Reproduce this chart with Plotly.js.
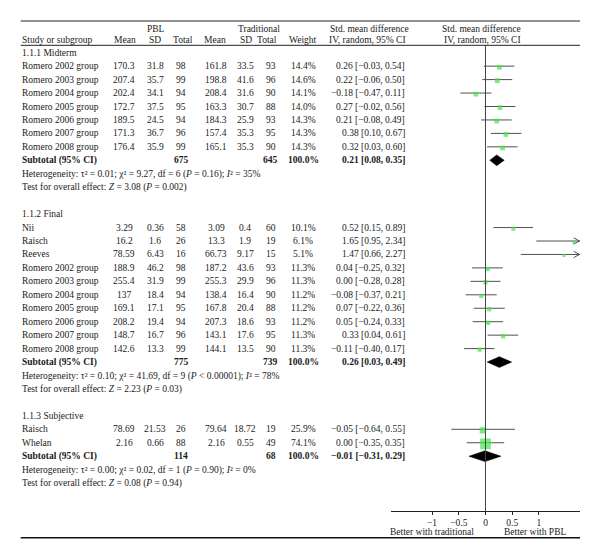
<!DOCTYPE html>
<html>
<head>
<meta charset="utf-8">
<script src="https://cdn.plot.ly/plotly-3.0.1.min.js"></script>
<style>html,body{margin:0;padding:0;background:#fff;}#chart{width:600px;height:559px;}</style>
</head>
<body>
<div id="chart"></div>
<script>
// ---------------- DATA ----------------
const groupTitles = ["1.1.1 Midterm", "1.1.2 Final", "1.1.3 Subjective"];

const midStudies = ["Romero 2002 group","Romero 2003 group","Romero 2004 group","Romero 2005 group","Romero 2006 group","Romero 2007 group","Romero 2008 group"];
const midPblMean = [170.3, 207.4, 202.4, 172.7, 189.5, 171.3, 176.4];
const midPblSD   = [31.8, 35.7, 34.1, 37.5, 24.5, 36.7, 35.9];
const midPblN    = [98, 99, 94, 95, 94, 96, 99];
const midTrMean  = [161.8, 198.8, 208.4, 163.3, 184.3, 157.4, 165.1];
const midTrSD    = [33.5, 41.6, 31.6, 30.7, 25.9, 35.3, 35.3];
const midTrN     = [93, 96, 90, 88, 93, 95, 90];
const midWeight  = [14.4, 14.6, 14.1, 14.0, 14.3, 14.3, 14.3];
const midSMD     = [0.26, 0.22, -0.18, 0.27, 0.21, 0.38, 0.32];
const midLo      = [-0.03, -0.06, -0.47, -0.02, -0.08, 0.10, 0.03];
const midHi      = [0.54, 0.50, 0.11, 0.56, 0.49, 0.67, 0.60];

const finStudies = ["Nii","Raisch","Reeves","Romero 2002 group","Romero 2003 group","Romero 2004 group","Romero 2005 group","Romero 2006 group","Romero 2007 group","Romero 2008 group"];
const finPblMean = [3.29, 16.2, 78.59, 188.9, 255.4, 137, 169.1, 208.2, 148.7, 142.6];
const finPblSD   = [0.36, 1.6, 6.43, 46.2, 31.9, 18.4, 17.1, 19.4, 16.7, 13.3];
const finPblN    = [58, 26, 16, 98, 99, 94, 95, 94, 96, 99];
const finTrMean  = [3.09, 13.3, 66.73, 187.2, 255.3, 138.4, 167.8, 207.3, 143.1, 144.1];
const finTrSD    = [0.4, 1.9, 9.17, 43.6, 29.9, 16.4, 20.4, 18.6, 17.6, 13.5];
const finTrN     = [60, 19, 15, 93, 96, 90, 88, 93, 95, 90];
const finWeight  = [10.1, 6.1, 5.1, 11.3, 11.3, 11.2, 11.2, 11.2, 11.3, 11.3];
const finSMD     = [0.52, 1.65, 1.47, 0.04, 0.00, -0.08, 0.07, 0.05, 0.33, -0.11];
const finLo      = [0.15, 0.95, 0.66, -0.25, -0.28, -0.37, -0.22, -0.24, 0.04, -0.40];
const finHi      = [0.89, 2.34, 2.27, 0.32, 0.28, 0.21, 0.36, 0.33, 0.61, 0.17];

const subStudies = ["Raisch","Whelan"];
const subPblMean = [78.69, 2.16];
const subPblSD   = [21.53, 0.66];
const subPblN    = [26, 88];
const subTrMean  = [79.64, 2.16];
const subTrSD    = [18.72, 0.55];
const subTrN     = [19, 49];
const subWeight  = [25.9, 74.1];
const subSMD     = [-0.05, 0.00];
const subLo      = [-0.64, -0.35];
const subHi      = [0.55, 0.35];

const totPblN = [675, 775, 114];
const totTrN  = [645, 739, 68];
const totSMD  = [0.21, 0.26, -0.01];
const totLo   = [0.08, 0.03, -0.31];
const totHi   = [0.35, 0.49, 0.29];

const hetTexts = [
  "Heterogeneity: τ² = 0.01; χ² = 9.27, df = 6 (<i>P</i> = 0.16); <i>I</i>² = 35%",
  "Heterogeneity: τ² = 0.10; χ² = 41.69, df = 9 (<i>P</i> < 0.00001); <i>I</i>² = 78%",
  "Heterogeneity: τ² = 0.00; χ² = 0.02, df = 1 (<i>P</i> = 0.90); <i>I</i>² = 0%"
];
const testTexts = [
  "Test for overall effect: <i>Z</i> = 3.08 (<i>P</i> = 0.002)",
  "Test for overall effect: <i>Z</i> = 2.23 (<i>P</i> = 0.03)",
  "Test for overall effect: <i>Z</i> = 0.08 (<i>P</i> = 0.94)"
];

const tickVals = [-1, -0.5, 0, 0.5, 1];
const tickLabels = ["−1", "−0.5", "0", "0.5", "1"];

// ---------------- LAYOUT HELPERS ----------------
const W = 600, H = 559, PB = 511;           // plot bottom pixel
const ROW0 = 52.7, ROWH = 13.45;             // pixel of row 0, row height
const XMIN = -1.767, XMAX = 1.767;
const FONT = "Liberation Serif, Times New Roman, serif";
const FS = 9.5;
const TXT = "#1a1a1a";
const GREEN = "#44e444";
const LINEC = "#505050";

const rowOf = p => (p - ROW0) / ROWH;
const px = p => p / W;
const py = p => (PB - p) / PB;
const minus = s => s.replace(/-/g, "−");
const f2 = v => minus(v.toFixed(2));
const ci = (e, l, h) => f2(e) + " [" + f2(l) + ", " + f2(h) + "]";

const groups = [
  {studies: midStudies, pm: midPblMean, ps: midPblSD, pn: midPblN, tm: midTrMean, ts: midTrSD, tn: midTrN, w: midWeight, e: midSMD, lo: midLo, hi: midHi},
  {studies: finStudies, pm: finPblMean, ps: finPblSD, pn: finPblN, tm: finTrMean, ts: finTrSD, tn: finTrN, w: finWeight, e: finSMD, lo: finLo, hi: finHi},
  {studies: subStudies, pm: subPblMean, ps: subPblSD, pn: subPblN, tm: subTrMean, ts: subTrSD, tn: subTrN, w: subWeight, e: subSMD, lo: subLo, hi: subHi}
];

// column x positions (pixels)
const COL = {name: 20.7, pm: 124, ps: 155, pn: 181, tm: 216, ts: 245, tn: 270.5, w: 303, ci: 406};

const annotations = [];
function addText(text, xpix, anchor, row, bold) {
  annotations.push({
    text: text,
    xref: "paper", yref: "y", x: px(xpix), y: row,
    xanchor: anchor, yanchor: "middle", showarrow: false,
    font: {family: FONT, size: FS, color: TXT, weight: bold ? "bold" : "normal"}, borderpad: 0
  });
}
function addHeader(text, xpix, anchor, ypix) {
  annotations.push({
    text: text, xref: "paper", yref: "paper", x: px(xpix), y: py(ypix),
    xanchor: anchor, yanchor: "middle", showarrow: false,
    font: {family: FONT, size: FS, color: TXT}, borderpad: 0
  });
}

// headers
addHeader("PBL", 156, "center", 29);
addHeader("Traditional", 259, "center", 29);
addHeader("Std. mean difference", 369.5, "center", 29);
addHeader("Std. mean difference", 481.5, "center", 29);
addHeader("Study or subgroup", 20.7, "left", 40.5);
addHeader("Mean", 124.5, "center", 40.5);
addHeader("SD", 155, "center", 40.5);
addHeader("Total", 183, "center", 40.5);
addHeader("Mean", 215, "center", 40.5);
addHeader("SD", 245.5, "center", 40.5);
addHeader("Total", 267, "center", 40.5);
addHeader("Weight", 303, "center", 40.5);
addHeader("IV, random, 95% CI", 367, "center", 40.5);
addHeader("IV, random, 95% CI", 482, "center", 40.5);
addHeader("Better with traditional", 432, "center", 532);
addHeader("Better with PBL", 535, "center", 532);

// body
const wx = [], wy = [];
const sx = [], sy = [], ss = [];
const ax = [], ay = [];
const diamonds = [];
let row = 0;
groups.forEach((g, gi) => {
  addText(groupTitles[gi], COL.name, "left", row);
  g.studies.forEach((s, i) => {
    const r = row + 1 + i;
    addText(s, COL.name, "left", r);
    addText(String(g.pm[i]), COL.pm, "center", r);
    addText(String(g.ps[i]), COL.ps, "center", r);
    addText(String(g.pn[i]), COL.pn, "center", r);
    addText(String(g.tm[i]), COL.tm, "center", r);
    addText(String(g.ts[i]), COL.ts, "center", r);
    addText(String(g.tn[i]), COL.tn, "center", r);
    addText(g.w[i].toFixed(1) + "%", COL.w, "center", r);
    addText(ci(g.e[i], g.lo[i], g.hi[i]), COL.ci, "right", r);
    wx.push(g.lo[i], g.hi[i], null); wy.push(r, r, null);
    sx.push(g.e[i]); sy.push(r + 0.08); ss.push(Math.max(3, 1.25 * Math.sqrt(g.w[i])));
    if (g.hi[i] > XMAX) {
      const xe = XMAX - 0.01;
      ax.push(xe - 0.11, xe, xe - 0.11, null);
      ay.push(r - 0.24, r, r + 0.24, null);
    }
  });
  const sr = row + g.studies.length + 1;
  addText("Subtotal (95% CI)", COL.name, "left", sr, true);
  addText(String(totPblN[gi]), COL.pn, "center", sr, true);
  addText(String(totTrN[gi]), COL.tn, "center", sr, true);
  addText("100.0%", COL.w, "center", sr, true);
  addText(ci(totSMD[gi], totLo[gi], totHi[gi]), COL.ci, "right", sr, true);
  diamonds.push({
    x: [totLo[gi], totSMD[gi], totHi[gi], totSMD[gi], totLo[gi]],
    y: [sr, sr - 0.4, sr, sr + 0.4, sr]
  });
  addText(hetTexts[gi], COL.name, "left", sr + 1.08);
  addText(testTexts[gi], COL.name, "left", sr + 2.05);
  row = sr + 4;
});

const traces = [];
traces.push({x: wx, y: wy, mode: "lines", type: "scatter", line: {color: LINEC, width: 1}, hoverinfo: "skip"});
traces.push({x: ax, y: ay, mode: "lines", type: "scatter", line: {color: LINEC, width: 1}, hoverinfo: "skip", cliponaxis: false});
traces.push({x: sx, y: sy, mode: "markers", type: "scatter",
  marker: {symbol: "square", size: ss, color: GREEN, line: {width: 0}}, hoverinfo: "skip"});
diamonds.forEach(d => traces.push({x: d.x, y: d.y, mode: "lines", type: "scatter", fill: "toself",
  fillcolor: "#000", line: {color: "#000", width: 0.5}, hoverinfo: "skip"}));

const shapes = [
  {type: "line", xref: "paper", yref: "paper", x0: px(20.7), x1: px(580), y0: py(21), y1: py(21), line: {color: "#222", width: 1}},
  {type: "line", xref: "paper", yref: "paper", x0: px(20.7), x1: px(580), y0: py(45.3), y1: py(45.3), line: {color: "#222", width: 1}},
  {type: "line", xref: "paper", yref: "paper", x0: px(20.7), x1: px(580), y0: py(537.7), y1: py(537.7), line: {color: "#111", width: 1.4}},
  {type: "line", xref: "x", yref: "paper", x0: 0, x1: 0, y0: 0, y1: py(45.3), line: {color: "#444", width: 1}}
];

const layout = {
  width: W, height: H,
  margin: {l: 0, r: 0, t: 0, b: H - PB, pad: 0},
  paper_bgcolor: "#fff", plot_bgcolor: "rgba(0,0,0,0)",
  showlegend: false,
  xaxis: {domain: [px(391), px(580)], range: [XMIN, XMAX], tickvals: tickVals, ticktext: tickLabels,
    showgrid: false, zeroline: false, showline: true, linecolor: "#222", linewidth: 1,
    ticks: "outside", ticklen: 3, tickcolor: "#222", tickwidth: 1,
    tickfont: {family: FONT, size: FS, color: TXT}, fixedrange: true},
  yaxis: {domain: [0, 1], range: [rowOf(PB), rowOf(0)], visible: false, fixedrange: true},
  annotations: annotations,
  shapes: shapes
};

Plotly.newPlot("chart", traces, layout, {displayModeBar: false, staticPlot: true});
</script>
</body>
</html>
